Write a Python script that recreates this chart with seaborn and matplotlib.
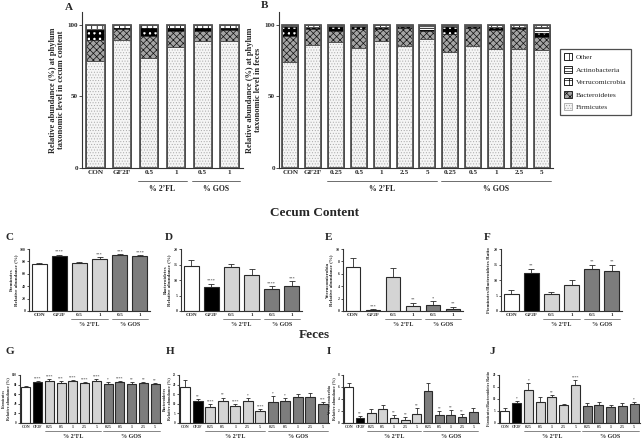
import numpy as np
import pandas as pd
import matplotlib
matplotlib.use("Agg")
import matplotlib.pyplot as plt
import seaborn as sns
from matplotlib.patches import Patch, Rectangle
from matplotlib.transforms import blended_transform_factory, ScaledTranslation

sns.set_style("ticks")
plt.rcParams['font.family'] = ['Liberation Serif', 'DejaVu Serif']
plt.rcParams['font.weight'] = 'bold'
plt.rcParams['axes.labelweight'] = 'bold'
plt.rcParams['hatch.linewidth'] = 0.5

# ---------------- data ----------------
cecum_ids = ["CON", "GF2F", "FL_0.5", "FL_1", "GOS_0.5", "GOS_1"]
cecum_labels = ["CON", "GF2F", "0.5", "1", "0.5", "1"]
cecum_kind = ["CON", "GF2F", "2FL", "2FL", "GOS", "GOS"]

feces_ids = ["CON", "GF2F", "FL_0.25", "FL_0.5", "FL_1", "FL_2.5", "FL_5",
             "GOS_0.25", "GOS_0.5", "GOS_1", "GOS_2.5", "GOS_5"]
feces_labels = ["CON", "GF2F", "0.25", "0.5", "1", "2.5", "5",
                "0.25", "0.5", "1", "2.5", "5"]
feces_kind = ["CON", "GF2F"] + ["2FL"] * 5 + ["GOS"] * 5

phyla = ["Firmicutes", "Bacteroidetes", "Verrucomicrobia", "Actinobacteria", "Other"]

# stacked relative abundance (%) - cecum
cecum_firmicutes = [75.0, 89.5, 76.6, 84.8, 89.0, 88.8]
cecum_bacteroidetes = [14.5, 7.5, 15.7, 11.0, 7.0, 7.7]
cecum_verrucomicrobia = [7.0, 0.5, 5.4, 1.2, 1.5, 0.8]
cecum_actinobacteria = [0.5, 0.5, 0.3, 0.5, 0.5, 0.5]
cecum_other = [3.0, 2.0, 2.0, 2.5, 2.0, 2.2]

# stacked relative abundance (%) - feces
feces_firmicutes = [73.8, 86.0, 88.3, 84.1, 89.0, 85.5, 90.0, 81.3, 85.5, 83.0, 83.2, 82.5]
feces_bacteroidetes = [18.5, 11.2, 7.7, 12.9, 8.0, 12.2, 5.8, 12.2, 12.2, 13.5, 13.8, 8.9]
feces_verrucomicrobia = [6.5, 0.8, 2.8, 1.8, 1.0, 0.5, 0.7, 5.3, 1.1, 1.6, 0.6, 2.8]
feces_actinobacteria = [0.2, 0.5, 0.2, 0.2, 0.5, 0.8, 2.5, 0.2, 0.2, 0.4, 1.0, 4.6]
feces_other = [1.0, 1.5, 1.0, 1.0, 1.5, 1.0, 1.0, 1.0, 1.0, 1.5, 1.4, 1.2]

# cecum single-phylum panels (mean, mean+SEM, significance)
C_mean = [75.1, 89.2, 76.8, 84.3, 89.7, 88.6]
C_top = [77.0, 91.0, 79.0, 87.0, 92.0, 90.3]
C_sig = ["", "****", "", "***", "***", "****"]

D_mean = [14.6, 7.9, 14.3, 11.6, 7.2, 8.2]
D_top = [16.3, 8.8, 15.3, 13.4, 8.0, 9.6]
D_sig = ["", "****", "", "", "****", "***"]

E_mean = [7.1, 0.15, 5.5, 0.8, 0.9, 0.4]
E_top = [8.6, 0.25, 6.9, 1.35, 1.55, 0.7]
E_sig = ["", "***", "", "**", "*", "**"]

F_mean = [5.6, 12.1, 5.4, 8.5, 13.4, 12.9]
F_top = [6.7, 13.7, 6.05, 9.9, 15.0, 15.0]
F_sig = ["", "**", "", "", "**", "**"]

# feces single-phylum panels
G_mean = [74.3, 84.7, 88.2, 84.0, 87.5, 84.0, 88.2, 80.6, 84.7, 82.0, 82.6, 81.3]
G_top = [78.0, 87.0, 91.0, 86.8, 89.6, 85.4, 91.0, 86.0, 86.8, 84.7, 84.7, 84.0]
G_sig = ["", "****", "****", "***", "****", "****", "****", "*", "****", "**", "**", "**"]

H_mean = [18.6, 11.3, 8.3, 11.3, 8.7, 11.6, 6.25, 11.1, 11.6, 13.4, 13.4, 10.1]
H_top = [22.4, 12.5, 10.0, 13.2, 9.7, 12.8, 7.1, 14.2, 13.0, 15.1, 15.6, 11.1]
H_sig = ["", "**", "****", "**", "****", "*", "****", "*", "*", "", "", "***"]

I_mean = [5.95, 0.85, 1.7, 2.35, 0.8, 0.55, 1.55, 5.4, 1.35, 1.4, 1.0, 1.9]
I_top = [6.6, 1.2, 2.4, 3.0, 1.35, 0.95, 2.45, 6.7, 2.0, 2.1, 1.45, 2.45]
I_sig = ["", "**", "", "", "**", "**", "**", "", "**", "**", "**", ""]

J_mean = [5.1, 8.2, 13.75, 8.9, 10.8, 7.5, 15.8, 6.9, 7.6, 6.5, 7.2, 8.1]
J_top = [6.1, 9.3, 16.7, 10.7, 11.7, 7.9, 17.9, 8.2, 8.6, 7.4, 8.5, 8.75]
J_sig = ["", "*", "*", "", "**", "", "****", "", "", "", "", "*"]

group_names = ["% 2\u2019FL", "% GOS"]

# ---------------- styling ----------------
kind_colors = {"CON": "#ffffff", "GF2F": "#000000", "2FL": "#d4d4d4", "GOS": "#7d7d7d"}
ph_face = ["#f5f5f5", "#a4a4a4", "#ffffff", "#ffffff", "#ffffff"]
ph_hatch = ["......", "xxxxx", "+++", "-----", "|||"]
ph_hcol = ["#a8a8a8", "#111111", "#000000", "#000000", "#000000"]
ph_hlw = [0.4, 0.5, 2.4, 0.6, 0.6]

W, H = 642, 442
fig = plt.figure(figsize=(W / 100, H / 100), dpi=100)


def px_axes(x0, x1, ytop, ybot):
    return fig.add_axes([x0 / W, 1 - ybot / H, (x1 - x0) / W, (ybot - ytop) / H])


def style_axes(ax, ylim, yticks, xlabels, xfs, yfs, ylabel, ylfs, tick_len=2.0):
    ax.set_ylim(*ylim)
    ax.set_yticks(yticks)
    ax.set_yticklabels([str(t) for t in yticks], fontsize=yfs, fontweight='bold')
    n = len(xlabels)
    ax.set_xlim(-0.5, n - 0.5)
    ax.set_xticks(range(n))
    ax.set_xticklabels(xlabels, fontsize=xfs, fontweight='bold')
    ax.tick_params(axis='x', length=0, pad=1.5)
    ax.tick_params(axis='y', length=tick_len, width=0.6, pad=1, color='#333333')
    for s in ["top", "right"]:
        ax.spines[s].set_visible(False)
    for s in ["left", "bottom"]:
        ax.spines[s].set_linewidth(0.8)
        ax.spines[s].set_color('#333333')
    ax.set_xlabel("")
    ax.set_ylabel(ylabel, fontsize=ylfs, fontweight='bold', labelpad=1.5, linespacing=1.0)


def group_lines(ax, spans, dy_line, dy_text, fs, lw=0.6):
    base = blended_transform_factory(ax.transData, ax.transAxes)
    tl = base + ScaledTranslation(0, -dy_line / 100, fig.dpi_scale_trans)
    tt = base + ScaledTranslation(0, -dy_text / 100, fig.dpi_scale_trans)
    for (a, b), lab in zip(spans, group_names):
        ax.plot([a - 0.4, b + 0.4], [0, 0], transform=tl, color='#555555', lw=lw, clip_on=False)
        ax.text((a + b) / 2, 0, lab, transform=tt, ha='center', va='center', fontsize=fs,
                fontweight='bold')


def set_hlw(p, lw):
    if hasattr(p, "set_hatch_linewidth"):
        p.set_hatch_linewidth(lw)


def stacked(ax, ids, layers, width):
    cum = np.cumsum(np.array(layers, dtype=float), axis=0)
    last = None
    for k in range(len(layers) - 1, -1, -1):
        n0 = len(ax.patches)
        sns.barplot(x=ids, y=cum[k], order=ids, color=ph_face[k], saturation=1,
                    width=width, errorbar=None, ax=ax)
        new = ax.patches[n0:]
        for p in new:
            p.set_hatch(ph_hatch[k])
            p.set_edgecolor(ph_hcol[k])
            p.set_linewidth(0)
            set_hlw(p, ph_hlw[k])
        for p in new:
            ax.add_patch(Rectangle(p.get_xy(), p.get_width(), p.get_height(), fill=False,
                                   ec='#111111', lw=0.5, zorder=p.get_zorder() + 0.1))
        if k == len(layers) - 1:
            last = new
    for p in last:
        ax.add_patch(Rectangle(p.get_xy(), p.get_width(), p.get_height(), fill=False,
                               ec='#555555', lw=1.3, zorder=5))


def barpanel(ax, ids, kinds, mean, top, sig, width, cap, sigfs, ymax):
    df = pd.DataFrame({"g": ids, "v": mean, "k": kinds})
    sns.barplot(data=df, x="g", y="v", hue="k", palette=kind_colors, order=ids,
                dodge=False, legend=False, width=width, saturation=1, errorbar=None, ax=ax)
    for p in ax.patches:
        p.set_edgecolor('#2a2a2a')
        p.set_linewidth(0.8)
    n = len(ids)
    m = np.array(mean)
    t = np.array(top)
    ax.errorbar(np.arange(n), m, yerr=[np.zeros(n), t - m], fmt='none', ecolor='#2a2a2a',
                elinewidth=0.6, capsize=cap, capthick=0.6, zorder=1)
    for i, s in enumerate(sig):
        if s:
            ax.text(i, t[i] + ymax * 0.015, s, ha='center', va='bottom', fontsize=sigfs,
                    fontweight='normal', color='#333333')


# ---------------- panel A ----------------
axA = px_axes(82, 243, 12, 168)
stacked(axA, cecum_ids, [cecum_firmicutes, cecum_bacteroidetes, cecum_verrucomicrobia,
                         cecum_actinobacteria, cecum_other], 0.68)
style_axes(axA, (0, 109), [0, 50, 100], cecum_labels, 5.2, 5.0,
           "Relative abundance (%) at phylum\ntaxonomic level in cecum content", 6.0)
group_lines(axA, [(2, 3), (4, 5)], 13, 21, 5.6)

# ---------------- panel B ----------------
axB = px_axes(279, 553, 12, 168)
stacked(axB, feces_ids, [feces_firmicutes, feces_bacteroidetes, feces_verrucomicrobia,
                         feces_actinobacteria, feces_other], 0.7)
style_axes(axB, (0, 109), [0, 50, 100], feces_labels, 5.2, 5.0,
           "Relative abundance (%) at phylum\ntaxonomic level in feces", 6.0)
group_lines(axB, [(2, 6), (7, 11)], 13, 21, 5.6)

handles = []
for k in range(len(phyla) - 1, -1, -1):
    hp = Patch(facecolor=ph_face[k], edgecolor=ph_hcol[k], hatch=ph_hatch[k], lw=0.6)
    set_hlw(hp, min(ph_hlw[k], 1.2))
    handles.append(hp)
leg = fig.legend(handles, phyla[::-1], loc='upper left',
                 bbox_to_anchor=(556 / W, 1 - 45 / H), frameon=True,
                 fancybox=False, edgecolor='#222222', handlelength=1.0, handleheight=1.0,
                 handletextpad=0.6, labelspacing=0.75, borderpad=0.6,
                 prop={'size': 5.4, 'weight': 'normal'})
leg.get_frame().set_linewidth(0.9)

# ---------------- cecum panels C-F ----------------
specs_cf = [
    ("C", 29, 150, C_mean, C_top, C_sig, 100, [0, 20, 40, 60, 80, 100], "Firmicutes\nRelative abundance (%)", 5),
    ("D", 181, 302, D_mean, D_top, D_sig, 20, [0, 5, 10, 15, 20], "Bacteroidetes\nRelative abundance (%)", 165),
    ("E", 343, 463, E_mean, E_top, E_sig, 10, [0, 2, 4, 6, 8, 10], "Verrucomicrobia\nRelative abundance (%)", 325),
    ("F", 501, 622, F_mean, F_top, F_sig, 20, [0, 5, 10, 15, 20], "Firmicutes/Bacteroidetes Ratio", 484),
]
for letter, x0, x1, mean, top, sig, ymax, ticks, ylab, lx in specs_cf:
    ax = px_axes(x0, x1, 249, 311)
    barpanel(ax, cecum_ids, cecum_kind, mean, top, sig, 0.74, 2.0, 3.2, ymax)
    style_axes(ax, (0, ymax), ticks, cecum_labels, 3.8, 2.8, ylab, 3.6, tick_len=1.5)
    group_lines(ax, [(2, 3), (4, 5)], 8, 13, 4.4, lw=0.5)
    fig.text(lx / W, 1 - 237 / H, letter, fontsize=8, fontweight='bold', va='center', ha='left')

# ---------------- feces panels G-J ----------------
specs_gj = [
    ("G", 20, 161, G_mean, G_top, G_sig, 100, [0, 20, 40, 60, 80, 100], "Firmicutes\nRelative abundance (%)", 5),
    ("H", 179, 329, H_mean, H_top, H_sig, 25, [0, 5, 10, 15, 20, 25], "Bacteroidetes\nRelative abundance (%)", 166),
    ("I", 343, 479, I_mean, I_top, I_sig, 8, [0, 2, 4, 6, 8], "Verrucomicrobia\nRelative abundance (%)", 327),
    ("J", 499, 640, J_mean, J_top, J_sig, 20, [0, 5, 10, 15, 20], "Firmicutes/Bacteroidetes Ratio", 490),
]
for letter, x0, x1, mean, top, sig, ymax, ticks, ylab, lx in specs_gj:
    ax = px_axes(x0, x1, 375, 423)
    barpanel(ax, feces_ids, feces_kind, mean, top, sig, 0.78, 1.4, 2.6, ymax)
    style_axes(ax, (0, ymax), ticks, feces_labels, 2.8, 2.3, ylab, 3.0, tick_len=1.2)
    group_lines(ax, [(2, 6), (7, 11)], 8, 13, 4.4, lw=0.5)
    fig.text(lx / W, 1 - 351 / H, letter, fontsize=8, fontweight='bold', va='center', ha='left')

# panel letters A, B and section titles
fig.text(65 / W, 1 - 7 / H, "A", fontsize=8, fontweight='bold', va='center', ha='left')
fig.text(261 / W, 1 - 6 / H, "B", fontsize=8, fontweight='bold', va='center', ha='left')
fig.text(315 / W, 1 - 213 / H, "Cecum Content", fontsize=9.5, fontweight='bold', va='center', ha='center')
fig.text(314 / W, 1 - 335 / H, "Feces", fontsize=9.5, fontweight='bold', va='center', ha='center')

fig.savefig("out.png", dpi=100)
